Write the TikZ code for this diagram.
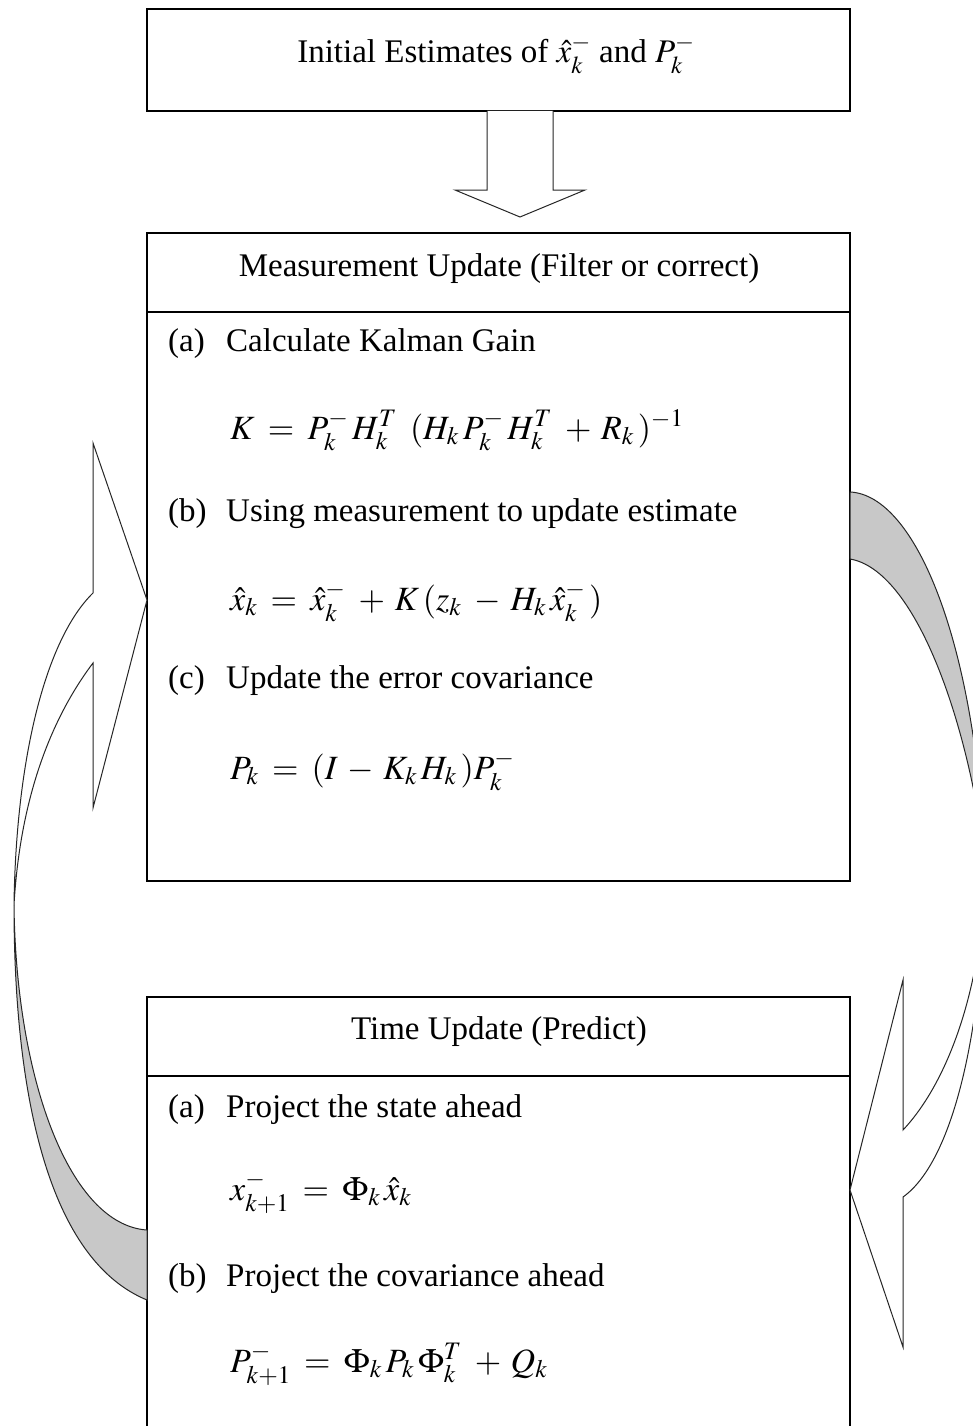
\documentclass[tikz,border=0pt]{standalone}
\usepackage{mathptmx}
\usepackage{fontspec}
\setmainfont{Liberation Serif}
\definecolor{band}{RGB}{200,200,200}
\newcommand\eqspacing{\thickmuskip=7mu plus 5mu\relax\medmuskip=5mu plus 2mu\relax}
\begin{document}
\begin{tikzpicture}[x=1pt,y=-1pt,
  box/.style={draw, line width=1.3pt, inner sep=0pt, outer sep=0pt, anchor=north west, minimum width=703pt},
  txt/.style={font=\fontsize{33}{40}\selectfont, inner sep=0pt},
  eqn/.style={font=\fontsize{34}{40}\selectfont, inner sep=0pt, anchor=base west},
  arrowline/.style={draw=black!85, line width=1pt, line join=miter}]
\useasboundingbox (0,0) rectangle (973,1426);
\clip (0,0) rectangle (973,1426);
% boxes
\node[box, minimum height=102pt] (init) at (147,9) {};
\node[box, minimum height=648pt] (meas) at (147,233) {};
\node[box, minimum height=470pt] (time) at (147,997) {};
\draw[line width=1.3pt] (meas.west |- 0,312) coordinate (md1) -- (meas.east |- 0,312) coordinate (md2);
\draw[line width=1.3pt] (time.west |- 0,1076) coordinate (td1) -- (time.east |- 0,1076) coordinate (td2);
% top block arrow
\draw[arrowline, fill=white] (487,111) -- (487,190) -- (455,190) -- (520,217) -- (585,190) -- (553,190) -- (553,111);
% texts
\node[txt, anchor=base] (t0) at (496,63) {Initial Estimates of $\hat{x}_k^-$ and $P_k^-$};
\node[txt, anchor=base] (t1) at (499,276) {Measurement Update (Filter or correct)};
\node[txt, anchor=base west] (ma) at (168,351) {\makebox[58pt][l]{(a)}Calculate Kalman Gain};
\node[eqn] (mfa) at (230,439) {$\eqspacing K = P_k^-\,H_k^T\;(H_k\,P_k^-\,H_k^T\, + R_k\,)^{-1}$};
\node[txt, anchor=base west] (mb) at (168,521) {\makebox[58pt][l]{(b)}Using measurement to update estimate};
\node[eqn] (mfb) at (230,610) {$\eqspacing \hat{x}_k = \hat{x}_k^-\, + K\,(z_k\, - H_k\,\hat{x}_k^-\,)$};
\node[txt, anchor=base west] (mc) at (168,688) {\makebox[58pt][l]{(c)}Update the error covariance};
\node[eqn] (mfc) at (230,779) {$\eqspacing P_k = (I - K_k\,H_k\,)P_k^-$};
\node[txt, anchor=base] (t2) at (499,1039) {Time Update (Predict)};
\node[txt, anchor=base west] (ta) at (168,1117) {\makebox[58pt][l]{(a)}Project the state ahead};
\node[eqn] (tfa) at (230,1200) {$\eqspacing x_{k+1}^- = \Phi_k\,\hat{x}_k$};
\node[txt, anchor=base west] (tb) at (168,1286) {\makebox[58pt][l]{(b)}Project the covariance ahead};
\node[eqn] (tfb) at (230,1372) {$\eqspacing P_{k+1}^- = \Phi_k\,P_k\,\Phi_k^T\, + Q_k$};
% left curved arrow (time -> measurement)
\draw[arrowline, fill=band] (14,905) .. controls (14,1100) and (50,1260) .. (147,1300) -- (147,1230) .. controls (70,1225) and (16,1080) .. (14,905) -- cycle;
\draw[arrowline, fill=white] (14,905) .. controls (16,760) and (45,640) .. (93,593) -- (93,443) -- (147,600) -- (93,808) -- (93,663) .. controls (50,720) and (20,800) .. (14,905) -- cycle;
% right curved arrow (measurement -> time)
\draw[arrowline, fill=band] (850,492) .. controls (915,495) and (975,640) .. (985,860) .. controls (968,720) and (915,570) .. (850,559) -- cycle;
\draw[arrowline, fill=white] (985,860) .. controls (985,980) and (950,1080) .. (903,1130) -- (903,980) -- (850,1190) -- (903,1347) -- (903,1197) .. controls (955,1160) and (985,1020) .. (985,860) -- cycle;
\end{tikzpicture}
\end{document}
